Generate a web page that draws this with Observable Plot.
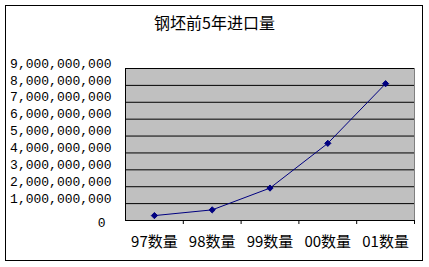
<!DOCTYPE html>
<html>
<head>
<meta charset="utf-8">
<script src="https://cdn.jsdelivr.net/npm/d3@7"></script>
<script src="https://cdn.jsdelivr.net/npm/@observablehq/plot@0.6"></script>
<style>
  html, body { margin: 0; padding: 0; background: #fff; }
  #wrap { position: relative; width: 429px; height: 267px; overflow: hidden; }
  #border { position: absolute; left: 5px; top: 5px; width: 418px; height: 256px; border: 1px solid #000; box-sizing: border-box; pointer-events: none; }
  #title { position: absolute; left: 0; width: 429px; top: 11px; text-align: center; font-family: "Noto Sans CJK SC", sans-serif; font-size: 16px; line-height: 22px; color: #000; }
  #chart { position: absolute; left: 0; top: 0; }
</style>
</head>
<body>
<div id="wrap">
  <div id="chart"></div>
  <div id="border"></div>
  <div id="title">钢坯前5年进口量</div>
</div>
<script>
const categories = ["97数量", "98数量", "99数量", "00数量", "01数量"];
const values = [2.9e8, 6.3e8, 1.92e9, 4.57e9, 8.1e9];
const yTicks = [1e9, 2e9, 3e9, 4e9, 5e9, 6e9, 7e9, 8e9, 9e9];
const zeroTick = [0];
const boundaries = [1, 2, 3, 4, 5];

const data = categories.map((c, i) => ({cat: c, pos: i + 0.5, value: values[i]}));
const fmt = d3.format(",");

const chart = Plot.plot({
  width: 429,
  height: 267,
  marginLeft: 125,
  marginRight: 15,
  marginTop: 68,
  marginBottom: 47,
  style: {background: "transparent", color: "#000", overflow: "visible"},
  x: {type: "linear", domain: [0, categories.length], axis: null, label: null},
  y: {domain: [0, 9e9], axis: null, label: null},
  marks: [
    Plot.frame({fill: "#c0c0c0", stroke: "#808080"}),
    Plot.ruleY(yTicks, {stroke: "#000"}),
    Plot.ruleY(zeroTick, {stroke: "#000"}),
    Plot.ruleX(zeroTick, {stroke: "#000"}),
    Plot.axisY({ticks: yTicks, tickSize: 0, tickPadding: 14, dy: -5, tickFormat: fmt, label: null,
      fontFamily: "Liberation Mono", fontSize: 13, fill: "#000"}),
    Plot.axisY({ticks: zeroTick, tickSize: 0, tickPadding: 20, dy: 2, tickFormat: fmt, label: null,
      fontFamily: "Liberation Mono", fontSize: 13, fill: "#000"}),
    Plot.axisX({ticks: boundaries, tickSize: 4, tickFormat: () => "", stroke: "#000", label: null}),
    Plot.axisX({ticks: data.map(d => d.pos), tickSize: 0, tickPadding: 16, label: null,
      tickFormat: p => categories[Math.floor(p)],
      fontFamily: "Noto Sans CJK SC", fontSize: 15, fill: "#000"}),
    Plot.line(data, {x: "pos", y: "value", stroke: "#000080", strokeWidth: 1}),
    Plot.dot(data, {x: "pos", y: "value", symbol: "diamond2", r: 2.8, fill: "#000080", stroke: "#000080", strokeWidth: 1})
  ]
});
document.getElementById("chart").appendChild(chart);
</script>
</body>
</html>
